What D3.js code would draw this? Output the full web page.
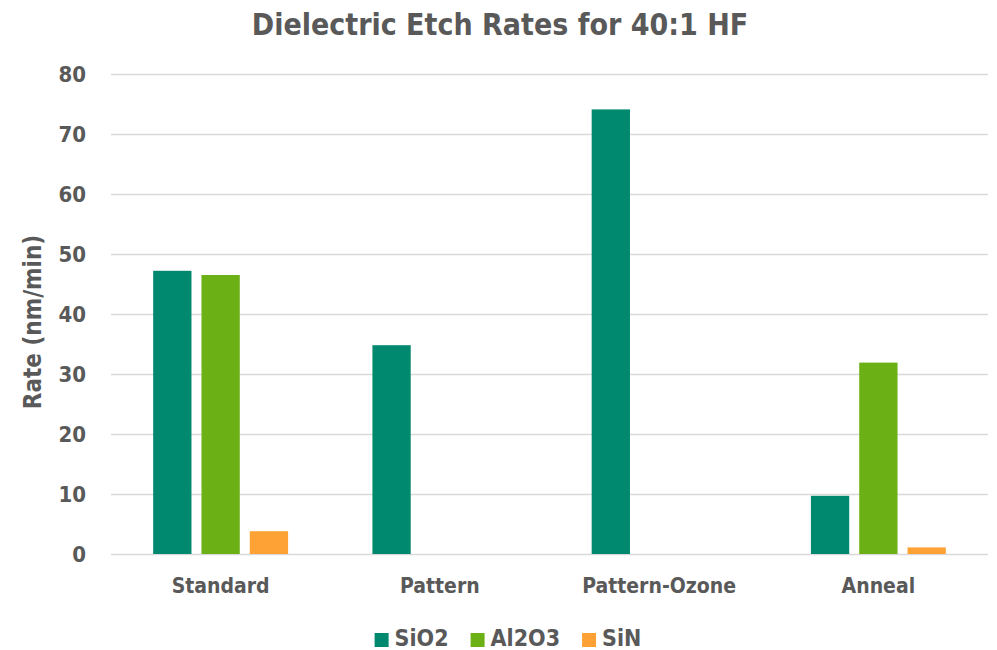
<!DOCTYPE html>
<html>
<head>
<meta charset="utf-8">
<script src="https://cdn.jsdelivr.net/npm/d3@7"></script>
<style>
  html, body { margin: 0; padding: 0; background: #ffffff; }
  svg { display: block; font-family: "DejaVu Sans Condensed", "DejaVu Sans", sans-serif; font-stretch: condensed; }
</style>
</head>
<body>
<svg id="chart" width="997" height="650"></svg>
<script>
// Etch rates (nm/min) per process condition
const categories = ["Standard", "Pattern", "Pattern-Ozone", "Anneal"];
const seriesNames = ["SiO2", "Al2O3", "SiN"];
const sio2 = [47.2, 34.8, 74.1, 9.7];
const al2o3 = [46.5, null, null, 31.9];
const sin = [3.8, null, null, 1.1];
const yTicks = [0, 10, 20, 30, 40, 50, 60, 70, 80];
const colors = ["#00896E", "#6BB015", "#FFA236"];

const seriesValues = [sio2, al2o3, sin];
const rows = categories.map((c, i) => ({
  category: c,
  values: seriesNames.map((s, j) => ({ series: s, value: seriesValues[j][i] }))
}));

const svg = d3.select("#chart");
const textColor = "#595959";
const fontFamily = '"DejaVu Sans Condensed", "DejaVu Sans", sans-serif';
const margin = { left: 111, right: 9, top: 74, bottom: 96 };
const W = 997, H = 650;
const plotW = W - margin.left - margin.right;
const plotH = H - margin.top - margin.bottom;

const x0 = d3.scaleBand().domain(categories).range([0, plotW]).padding(0);
const x1 = d3.scaleBand().domain(seriesNames).range([0, x0.bandwidth()])
  .paddingInner(0.207).paddingOuter(0.873);
const y = d3.scaleLinear().domain([0, 80]).range([plotH, 0]);
const color = d3.scaleOrdinal().domain(seriesNames).range(colors);

const g = svg.append("g").attr("transform", `translate(${margin.left},${margin.top})`);

// Horizontal gridlines and value labels
const yAxis = g.append("g")
  .call(d3.axisLeft(y).tickValues(yTicks).tickSize(-plotW).tickPadding(25).tickFormat(d3.format("d")))
  .attr("font-family", fontFamily);
yAxis.select(".domain").remove();
yAxis.selectAll(".tick line").attr("stroke", "#D9D9D9").attr("stroke-width", 1.6);
yAxis.selectAll(".tick text")
  .attr("fill", textColor).attr("font-size", 22).attr("font-weight", "bold");

// Bars
const groups = g.selectAll(".group").data(rows).join("g")
  .attr("class", "group")
  .attr("transform", d => `translate(${x0(d.category)},0)`);
groups.selectAll("rect")
  .data(d => d.values.filter(v => v.value != null))
  .join("rect")
  .attr("x", d => x1(d.series))
  .attr("width", x1.bandwidth())
  .attr("y", d => y(d.value))
  .attr("height", d => y(0) - y(d.value))
  .attr("fill", d => color(d.series));

// Category axis
const xAxis = g.append("g").attr("transform", `translate(0,${plotH})`)
  .call(d3.axisBottom(x0).tickSize(0).tickPadding(24))
  .attr("font-family", fontFamily);
xAxis.select(".domain").remove();
xAxis.selectAll(".tick text")
  .attr("fill", textColor).attr("font-size", 21).attr("font-weight", "bold");

// Title
svg.append("text")
  .attr("x", 500).attr("y", 35)
  .attr("text-anchor", "middle")
  .attr("fill", textColor).attr("font-size", 30).attr("font-weight", "bold")
  .text("Dielectric Etch Rates for 40:1 HF");

// Y axis title
svg.append("text")
  .attr("transform", "translate(41,322) rotate(-90)")
  .attr("text-anchor", "middle")
  .attr("fill", textColor).attr("font-size", 24).attr("font-weight", "bold")
  .text("Rate (nm/min)");

// Legend
const legend = svg.append("g");
let lx = 0;
seriesNames.forEach((s, i) => {
  const item = legend.append("g").attr("transform", `translate(${lx},0)`);
  item.append("rect").attr("x", 0).attr("y", -13).attr("width", 14).attr("height", 14)
    .attr("fill", color(s));
  const t = item.append("text").attr("x", 20).attr("y", 0)
    .attr("fill", textColor).attr("font-size", 23).attr("font-weight", "bold")
    .text(s);
  lx += 20 + t.node().getComputedTextLength() + 22;
});
const legendW = lx - 22;
legend.attr("transform", `translate(${508 - legendW / 2},646)`);
</script>
</body>
</html>
